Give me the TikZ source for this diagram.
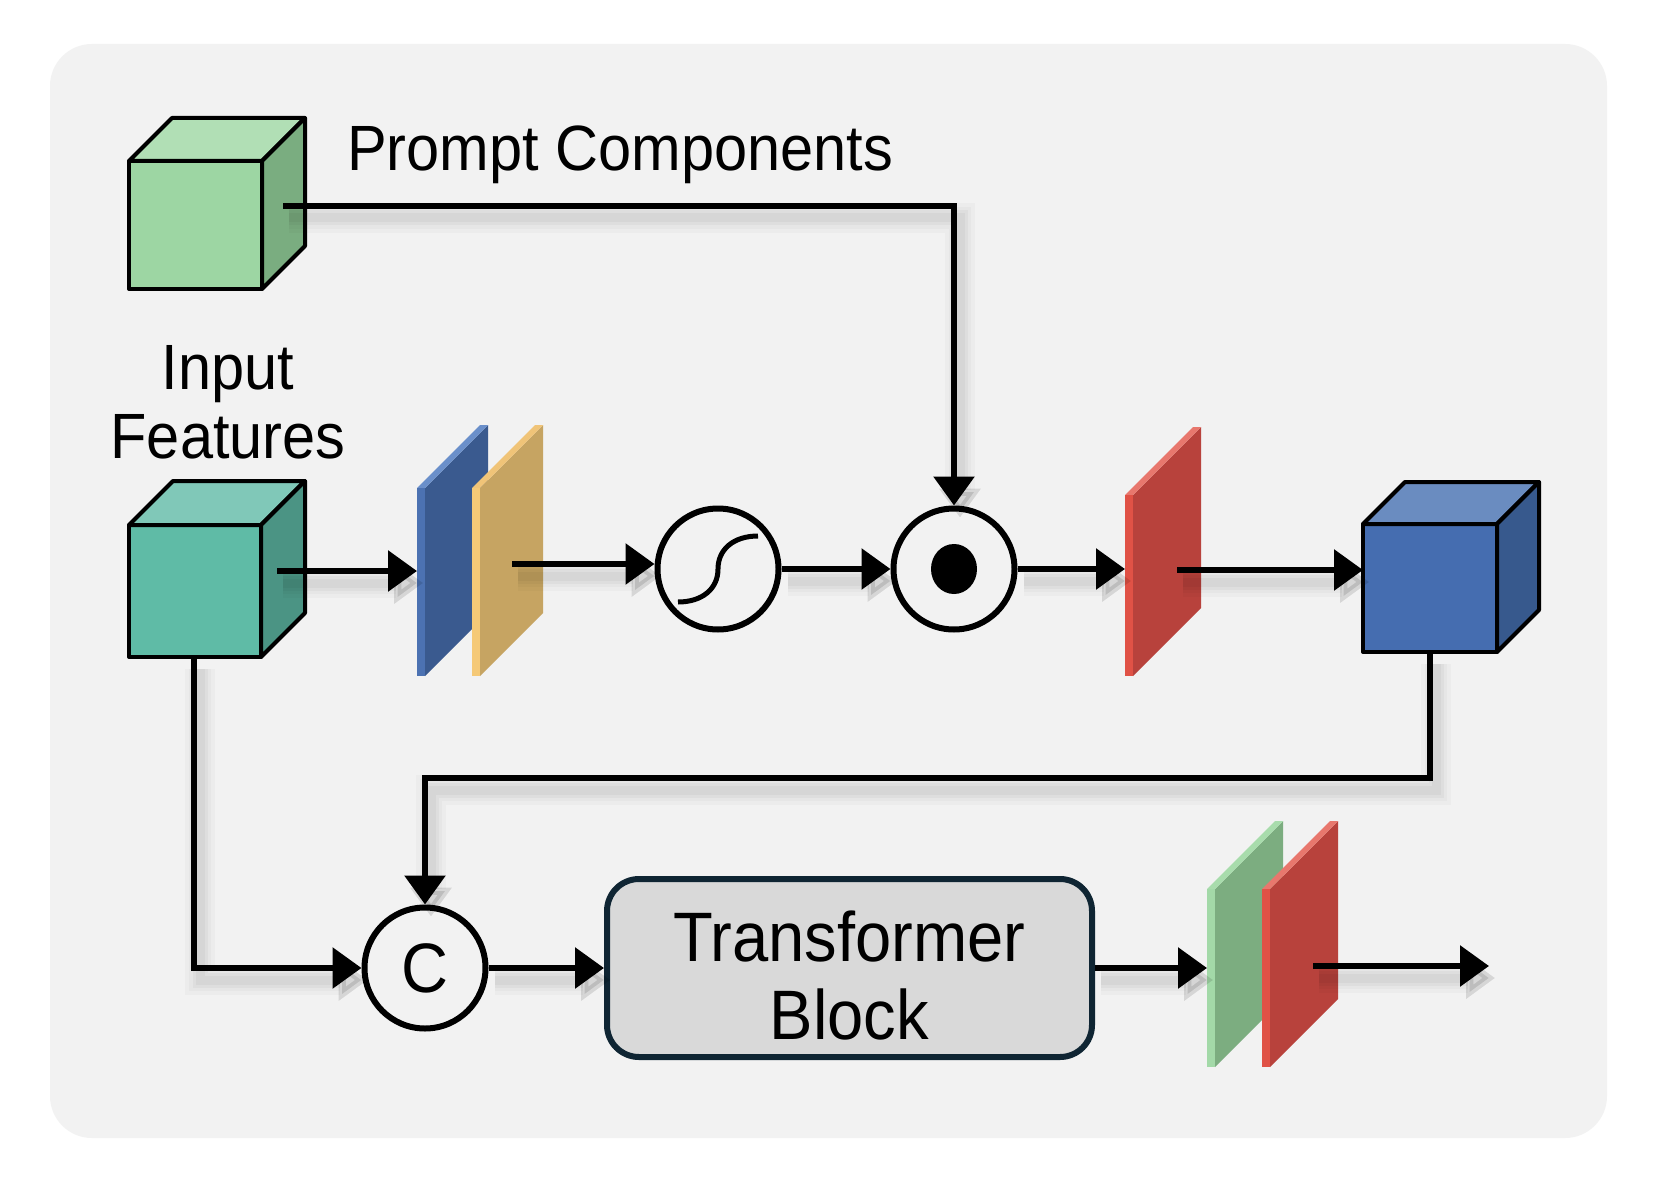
\documentclass[tikz,border=0pt]{standalone}
\usepackage{fontspec}
\setmainfont{Liberation Sans}
\newfontfamily\lblfont[FakeStretch=0.93]{Liberation Sans}
\usetikzlibrary{arrows.meta}
\definecolor{bgc}{HTML}{F2F2F2}
\definecolor{pgF}{HTML}{9DD6A3}\definecolor{pgT}{HTML}{B1DFB5}\definecolor{pgS}{HTML}{7AAD80}
\definecolor{tqF}{HTML}{5FBBA6}\definecolor{tqT}{HTML}{80C8B8}\definecolor{tqS}{HTML}{4B9484}
\definecolor{blF}{HTML}{456DB0}\definecolor{blT}{HTML}{6A8CC0}\definecolor{blS}{HTML}{37598D}
\definecolor{bpS}{HTML}{4C72B2}\definecolor{bpF}{HTML}{3A5A8F}\definecolor{bpT}{HTML}{6A8FCA}
\definecolor{opS}{HTML}{F5C977}\definecolor{opF}{HTML}{C6A462}\definecolor{opT}{HTML}{F0C478}
\definecolor{rpS}{HTML}{E05246}\definecolor{rpF}{HTML}{B8423C}\definecolor{rpT}{HTML}{E8776D}
\definecolor{gpS}{HTML}{A3D9A8}\definecolor{gpF}{HTML}{7CAD80}\definecolor{gpT}{HTML}{A8DCAC}
\definecolor{tbF}{HTML}{D9D9D9}\definecolor{tbD}{HTML}{0F2533}
\newcommand\drawcube[8]{%
  \filldraw[cubeline, fill=#6] (#1,#2) rectangle ++(#3,#4);
  \filldraw[cubeline, fill=#7] (#1,#2) -- ++(#5,-#5) -- ++(#3,0) -- ++(-#5,#5) -- cycle;
  \filldraw[cubeline, fill=#8] (#1+#3,#2) -- ++(#5,-#5) -- ++(0,#4) -- ++(-#5,#5) -- cycle;
}
\newcommand\drawplane[7]{%
  \fill[#6] (#1+8,#2) -- ++(#4,-#4) -- ++(0,#3) -- ++(-#4,#4) -- cycle;
  \fill[#7] (#1,#2) -- ++(#4,-#4) -- ++(8,0) -- ++(-#4,#4) -- cycle;
  \fill[#5] (#1,#2) rectangle ++(8,#3);
}
\begin{document}
\begin{tikzpicture}[x=1pt,y=-1pt,
  cubeline/.style={draw=black,line width=4pt,line join=round},
  lbl/.style={font=\lblfont\fontsize{64}{70}\selectfont,inner sep=0pt},
  opnode/.style={circle,draw=black,line width=6pt,fill=bgc,minimum size=121pt,inner sep=0pt},
  shadowed/.style={
    preaction={draw=black,opacity=0.025,line width=30pt,transform canvas={shift={(6,12)}}},
    preaction={draw=black,opacity=0.025,line width=22pt,transform canvas={shift={(6,12)}}},
    preaction={draw=black,opacity=0.03,line width=15pt,transform canvas={shift={(6,12)}}},
    preaction={draw=black,opacity=0.035,line width=9pt,transform canvas={shift={(6,12)}}}},
  conn/.style={shadowed,draw=black,line width=6pt,-{Triangle[length=29pt,width=40pt]}}]
\useasboundingbox[fill=white] (0,0) rectangle (1657,1185);
\fill[bgc,rounded corners=42pt] (50,44) rectangle (1607,1138);

% cubes
\drawcube{129}{161}{133}{128}{43}{pgF}{pgT}{pgS}
\drawcube{129}{525}{132}{132}{44}{tqF}{tqT}{tqS}
\drawcube{1363}{524}{134}{128}{42}{blF}{blT}{blS}

% planes
\drawplane{417}{488}{188}{63}{bpS}{bpF}{bpT}
\drawplane{472}{488}{188}{63}{opS}{opF}{opT}
\drawplane{1125}{495}{181}{68}{rpS}{rpF}{rpT}
\drawplane{1207}{889}{178}{68}{gpS}{gpF}{gpT}
\drawplane{1262}{889}{178}{68}{rpS}{rpF}{rpT}

% labels
\node[lbl,anchor=base west] (ptxt) at (347,171) {Prompt Components};
\node[lbl,anchor=base] (itxt1) at (228,389) {Input};
\node[lbl,anchor=base] (itxt2) at (228,458) {Features};

% operator nodes
\node[opnode] (sig) at (718,569) {};
\node[opnode] (odot) at (954,569) {};
\node[opnode,font=\lblfont\fontsize{70}{74}\selectfont] (cat) at (425,968) {C};
\node[draw=tbD,line width=6pt,fill=tbF,rounded corners=32pt,minimum width=485pt,minimum height=178pt,
  align=center,font=\lblfont\fontsize{70}{78}\selectfont] (tb) at (849.5,968) {\rule{0pt}{66pt}Transformer\\Block};

\draw[line width=5pt] ([shift={(-40,33)}]sig.center) .. controls +(24,0) and +(0,20) .. (sig.center)
  .. controls +(0,-20) and +(-24,0) .. ([shift={(40,-33)}]sig.center);
\fill (odot.center) ellipse [x radius=23pt, y radius=25pt];

% connector coordinates
\coordinate (pc) at (283,206);
\coordinate (ic) at (277,571);
\coordinate (bp) at (417,571);
\coordinate (oc) at (512,564);
\coordinate (rp1) at (1125,570);
\coordinate (rc) at (1177,570);
\coordinate (bc) at (1363,570);
\coordinate (bcb) at (1430,652);
\coordinate (midy) at (0,778);
\coordinate (icb) at (194,657);
\coordinate (gp) at (1207,966);
\coordinate (oc2) at (1313,966);
\coordinate (outend) at (1489,966);

% connectors
\draw[conn] (pc) -- (pc -| odot.north) -- (odot.north);
\draw[conn] (ic) -- (bp);
\draw[conn] (oc) -- (oc -| sig.west);
\draw[conn] (sig.east) -- (odot.west);
\draw[conn] (odot.east) -- (odot.east -| rp1);
\draw[conn] (rc) -- (bc);
\draw[conn] (bcb) -- (bcb |- midy) -- (midy -| cat.north) -- (cat.north);
\draw[conn] (icb) |- (cat.west);
\draw[conn] (cat.east) -- (tb.west);
\draw[conn] (tb.east) -- (tb.east -| gp);
\draw[conn] (oc2) -- (outend);
\end{tikzpicture}
\end{document}
